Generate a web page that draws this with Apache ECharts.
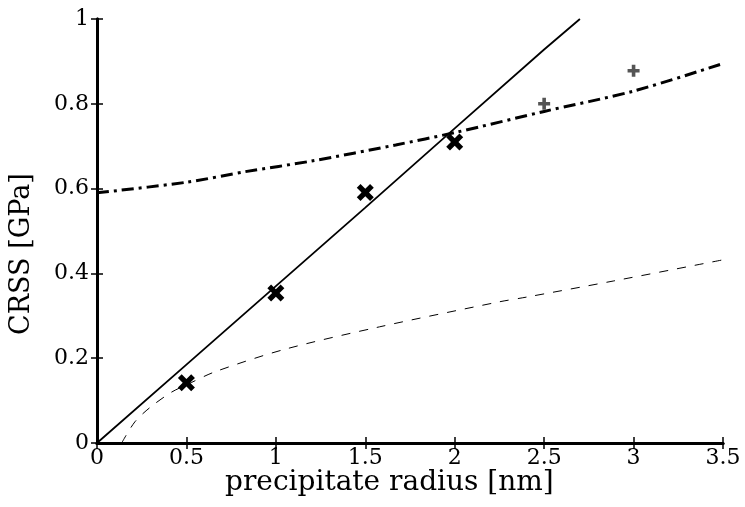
<!DOCTYPE html>
<html><head><meta charset="utf-8">
<script src="https://cdn.jsdelivr.net/npm/echarts@6/dist/echarts.min.js"></script>
<style>html,body{margin:0;padding:0;background:#fff}#c{width:745px;height:507px}</style>
</head><body><div id="c"></div>
<script>
const xTicks = [0, 0.5, 1, 1.5, 2, 2.5, 3, 3.5];
const yTicks = [0, 0.2, 0.4, 0.6, 0.8, 1];
const xTitle = 'precipitate radius [nm]';
const yTitle = 'CRSS [GPa]';
const crossPts = [[0.5, 0.142], [1, 0.354], [1.5, 0.591], [2, 0.71]];
const starPts = [[2.5, 0.80], [3, 0.878]];
const solidLine = [[0, 0], [0.5, 0.185], [1, 0.37], [1.5, 0.555], [2, 0.742], [2.5, 0.928], [2.7, 1.0]];
const dashDotLine = [[0, 0.59], [0.5, 0.615], [0.83, 0.64], [1.2, 0.665], [1.67, 0.703], [2, 0.732], [2.5, 0.782], [3, 0.83], [3.5, 0.895]];
const dashedLine = [[0.138, 0], [0.212, 0.05], [0.3, 0.085], [0.417, 0.12], [0.5, 0.137], [0.66, 0.168], [1.05, 0.221], [1.58, 0.274], [2.25, 0.333], [2.4, 0.344], [2.886, 0.382], [3.5, 0.432]];

const FONT = 'DejaVu Serif';
const crossPath = 'path://M2.2,0 L5,2.8 L7.8,0 L10,2.2 L7.2,5 L10,7.8 L7.8,10 L5,7.2 L2.2,10 L0,7.8 L2.8,5 L0,2.2 Z';
const plusPath = 'path://M3.5,0 L6.5,0 L6.5,3.5 L10,3.5 L10,6.5 L6.5,6.5 L6.5,10 L3.5,10 L3.5,6.5 L0,6.5 L0,3.5 L3.5,3.5 Z';

const axisCommon = {
  axisLine: {lineStyle: {color: '#000', width: 3}},
  axisTick: {inside: true, length: 6, lineStyle: {color: '#000', width: 1.5}},
  splitLine: {show: false}
};
const chart = echarts.init(document.getElementById('c'));
chart.setOption({
  animation: false,
  grid: {left: 97, right: 22, top: 19, bottom: 64, outerBoundsMode: 'none', containLabel: false},
  xAxis: [
    Object.assign({type: 'value', min: 0, max: 3.5, interval: 0.5, position: 'bottom',
      axisLabel: {fontFamily: FONT, fontSize: 22, color: '#000', margin: 4}}, axisCommon),
    Object.assign({type: 'value', min: 0, max: 3.5, interval: 0.5, position: 'top',
      axisLabel: {show: false}}, axisCommon)
  ],
  yAxis: [
    Object.assign({type: 'value', min: 0, max: 1, interval: 0.2, position: 'left',
      axisLabel: {fontFamily: FONT, fontSize: 22, color: '#000', margin: 8}}, axisCommon),
    Object.assign({type: 'value', min: 0, max: 1, interval: 0.2, position: 'right',
      axisLabel: {show: false}}, axisCommon)
  ],
  graphic: [
    {type: 'text', left: 225, top: 469,
      style: {text: xTitle, font: '28px "DejaVu Serif"', fill: '#000'}},
    {type: 'text', x: 8, y: 254, rotation: Math.PI / 2, originX: 0, originY: 0,
      style: {text: yTitle, font: '27px "DejaVu Serif"', fill: '#000', align: 'center', verticalAlign: 'top'}}
  ],
  series: [
    {type: 'line', data: solidLine, symbol: 'none', lineStyle: {color: '#000', width: 1.8}},
    {type: 'line', data: dashDotLine, symbol: 'none', smooth: 0.3,
      lineStyle: {color: '#000', width: 3, type: [12, 5, 3, 5]}},
    {type: 'line', data: dashedLine, symbol: 'none', smooth: 0.3,
      lineStyle: {color: '#000', width: 1, type: [9, 9]}},
    {type: 'scatter', data: crossPts, symbol: crossPath, symbolSize: 17,
      itemStyle: {color: '#000', opacity: 1}, z: 5},
    {type: 'scatter', data: starPts, symbol: plusPath, symbolSize: 12,
      itemStyle: {color: '#555', opacity: 1}, z: 5}
  ]
});
</script></body></html>
